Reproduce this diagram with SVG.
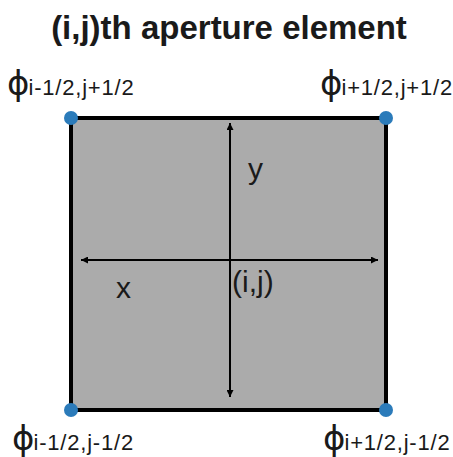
<svg xmlns="http://www.w3.org/2000/svg" width="453" height="457" viewBox="0 0 453 457">
<defs>
<style>
.t{font-family:"Liberation Sans",Arial,sans-serif;fill:#1a1a1a}
.phi{font-size:34px;font-family:"DejaVu Sans",sans-serif}
.sub{font-size:22px;letter-spacing:0.8px}
.ax{stroke:#000;stroke-width:2;fill:none}
.dot{fill:#2b7bba}
</style>
<marker id="ah" viewBox="0 0 10 10" refX="10" refY="5" markerWidth="7" markerHeight="7" markerUnits="userSpaceOnUse" orient="auto-start-reverse">
<path d="M0,0 L10,5 L0,10 z" fill="#000"/>
</marker>
</defs>
<rect width="453" height="457" fill="#fff"/>
<text class="t" x="229" y="39" text-anchor="middle" font-size="33" font-weight="bold" fill="#000">(i,j)th aperture element</text>
<g id="element">
<rect x="71" y="118" width="315" height="292" fill="#ababab" stroke="#000" stroke-width="4"/>
</g>
<g id="connectors">
<line class="ax" x1="230" y1="123" x2="230" y2="397" marker-start="url(#ah)" marker-end="url(#ah)"/>
<line class="ax" x1="81" y1="260" x2="378" y2="260" marker-start="url(#ah)" marker-end="url(#ah)"/>
</g>
<g id="labels">
<text class="t" x="248" y="179" font-size="30">y</text>
<text class="t" x="116" y="298" font-size="30">x</text>
<text class="t" x="232" y="292" font-size="30">(i,j)</text>
</g>
<g id="corner-tl">
<circle class="dot" cx="71" cy="118" r="7"/>
<text class="t" x="7" y="95"><tspan class="phi">ϕ</tspan><tspan class="sub" dx="-1">i-1/2,j+1/2</tspan></text>
</g>
<g id="corner-tr">
<circle class="dot" cx="386" cy="118" r="7"/>
<text class="t" x="320" y="95"><tspan class="phi">ϕ</tspan><tspan class="sub" dx="-1">i+1/2,j+1/2</tspan></text>
</g>
<g id="corner-bl">
<circle class="dot" cx="71" cy="410" r="7"/>
<text class="t" x="12" y="450"><tspan class="phi">ϕ</tspan><tspan class="sub" dx="-1">i-1/2,j-1/2</tspan></text>
</g>
<g id="corner-br">
<circle class="dot" cx="386" cy="410" r="7"/>
<text class="t" x="323" y="450"><tspan class="phi">ϕ</tspan><tspan class="sub" dx="-1">i+1/2,j-1/2</tspan></text>
</g>
</svg>
